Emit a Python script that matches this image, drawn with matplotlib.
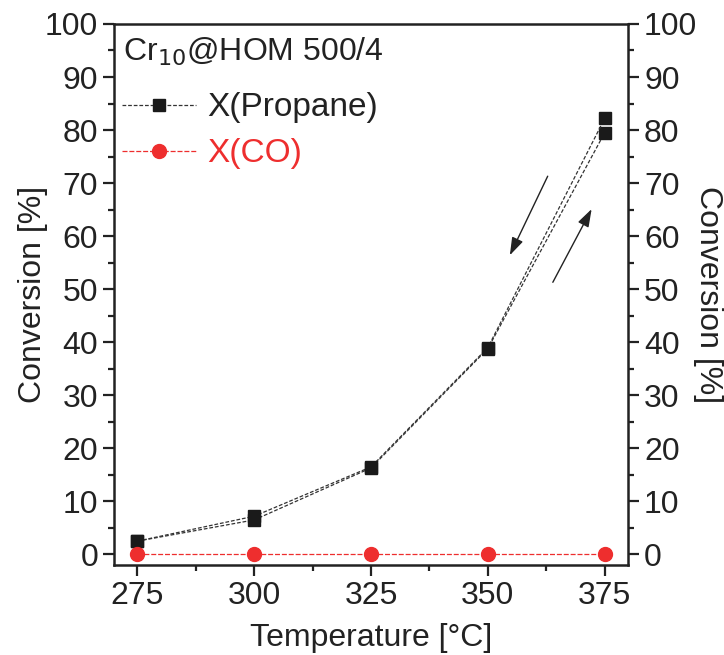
import matplotlib
matplotlib.use("Agg")
import matplotlib.pyplot as plt
from matplotlib.ticker import MultipleLocator

plt.rcParams["font.family"] = ["Liberation Sans", "DejaVu Sans"]

# temperatures [°C]
temps = [275, 300, 325, 350, 375]
# propane conversion, heating and cooling runs [%]
propane_up = [2.5, 6.5, 16.3, 38.8, 79.5]
propane_down = [2.5, 7.2, 16.5, 39.0, 82.2]
# CO conversion [%]
co = [0, 0, 0, 0, 0]

fs = 23
red = "#ee2e2e"

fig = plt.figure(figsize=(7.24, 6.55), dpi=100)
ax = fig.add_axes([0.1575, 0.1374, 0.71, 0.826])

ax.plot(temps, propane_up, ls=(0, (3, 1.5)), lw=0.9, color="#333333",
        marker="s", ms=9, mfc="#1a1a1a", mec="#1a1a1a", label="X(Propane)")
ax.plot(temps, propane_down, ls=(0, (3, 1.5)), lw=0.9, color="#333333",
        marker="s", ms=9, mfc="#1a1a1a", mec="#1a1a1a")
ax.plot(temps, co, ls=(0, (4, 1.5)), lw=0.9, color=red,
        marker="o", ms=10, mfc=red, mec=red, label="X(CO)")

# direction arrows
ax.annotate("", xy=(354.7, 56.4), xytext=(362.8, 71.3),
            arrowprops=dict(arrowstyle="-|>,head_length=0.6,head_width=0.2",
                            color="#222222", lw=1.0,
                            mutation_scale=18, shrinkA=0, shrinkB=0))
ax.annotate("", xy=(372.2, 65.1), xytext=(363.9, 51.3),
            arrowprops=dict(arrowstyle="-|>,head_length=0.6,head_width=0.2",
                            color="#222222", lw=1.0,
                            mutation_scale=18, shrinkA=0, shrinkB=0))

ax.set_xlim(270, 380)
ax.set_ylim(-2, 100)
ax.xaxis.set_major_locator(MultipleLocator(25))
ax.xaxis.set_minor_locator(MultipleLocator(12.5))
ax.yaxis.set_major_locator(MultipleLocator(10))
ax.yaxis.set_minor_locator(MultipleLocator(5))

ax.tick_params(which="both", direction="out", width=1.6, color="#222222",
               labelsize=fs, labelcolor="#222222", right=True, labelright=True)
ax.tick_params(which="major", length=8)
ax.tick_params(which="minor", length=4.5)
ax.tick_params(axis="x", which="both", top=False)
for s in ax.spines.values():
    s.set_linewidth(1.8)
    s.set_color("#222222")

ax.set_xlabel("Temperature [°C]", fontsize=fs, color="#222222", labelpad=9)
ax.set_ylabel("Conversion [%]", fontsize=fs, color="#222222", labelpad=-2)
ax2 = ax.secondary_yaxis("right")
ax2.set_yticks([])
ax2.spines["right"].set_visible(False)
ax2.set_ylabel("Conversion [%]", fontsize=fs, color="#222222",
               rotation=-90, labelpad=68)

ax.text(0.018, 0.978, r"Cr$_{10}$@HOM 500/4", transform=ax.transAxes,
        fontsize=fs, color="#222222", va="top", ha="left")
ax.legend(loc="upper left", bbox_to_anchor=(-0.01, 0.898), frameon=False,
          fontsize=24, handlelength=2.2, handletextpad=0.35,
          labelspacing=0.45, labelcolor=["#222222", red], borderaxespad=0)

fig.savefig("out.png", dpi=100)
